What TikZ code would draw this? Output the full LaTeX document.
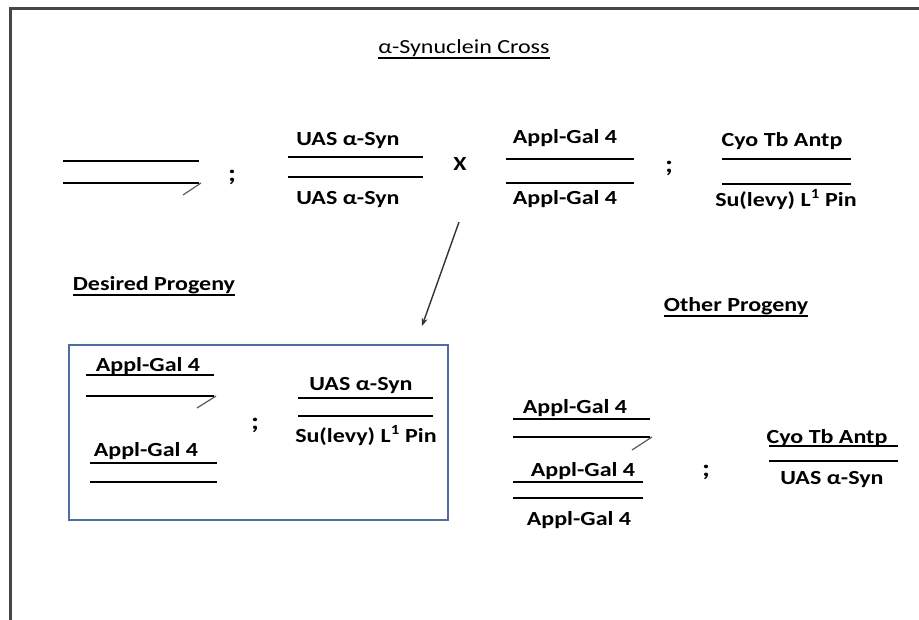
\documentclass[tikz,border=0pt]{standalone}
\usepackage{fontspec}
\setmainfont{Carlito}[FakeStretch=1.2]
\usetikzlibrary{arrows.meta}
\definecolor{boxblue}{RGB}{79,110,160}
\definecolor{framegray}{RGB}{70,70,70}
\tikzset{
    chrom/.style={line width=1.7pt},
    hook/.style={line width=1.2pt, black!65},
    gene/.style={font=\fontsize{20}{24}\selectfont\bfseries, inner sep=0pt, anchor=base},
    heading/.style={inner sep=0pt, anchor=base}
}

\begin{document}
\begin{tikzpicture}[x=1pt,y=-1pt]
\useasboundingbox (0,0) rectangle (919,620);
\draw[line width=3pt, framegray] (10,620) -- (10,9) -- (919,9);
% headings, underlined
\foreach \x/\y/\p/\f/\t in {464/53.5/title/\mdseries/{α-Synuclein Cross}, 154/290.5/desired/\bfseries/{Desired Progeny}, 736/311.5/other/\bfseries/{Other Progeny}}{
    \node[heading, font=\fontsize{20}{24}\selectfont\f] (\p) at (\x,\y) {\t};
    \draw[line width=1.5pt] ([yshift=-4.5pt]\p.base west) -- ([yshift=-4.5pt]\p.base east);
}
% chromosome lines
\foreach \xa/\xb/\y in {63/199/161, 63/199/183, 288/423/157, 288/423/177, 506/634/159, 506/634/183, 722/851/159, 722/851/184,
    86/214/375, 86/214/396, 90/217/463, 90/217/482, 298/433/398, 298/433/416,
    513/650/419, 513/650/437, 513/643/482, 513/643/498, 769/898/446, 769/898/461}{
    \draw[chrom] (\xa,\y) -- (\xb,\y);
}
% balancer hooks
\foreach \xa/\ya/\xb/\yb in {201/183/183/195, 216/396/197/408, 652/437/632/450}{
    \draw[hook] (\xa,\ya) -- (\xb,\yb);
}
% gene labels
\foreach \x/\y/\t [count=\i] in {348/145.5/{UAS α-Syn}, 348/204.5/{UAS α-Syn}, 565/143.5/{Appl-Gal 4}, 565/204.5/{Appl-Gal 4},
    782/146.5/{Cyo Tb Antp}, 786/206.5/{Su(levy) L\textsuperscript{1} Pin},
    148/371.5/{Appl-Gal 4}, 146/456.5/{Appl-Gal 4}, 361/390.5/{UAS α-Syn}, 366/442.5/{Su(levy) L\textsuperscript{1} Pin},
    575/413.5/{Appl-Gal 4}, 583/476.5/{Appl-Gal 4}, 579/525.5/{Appl-Gal 4}, 827/443.5/{Cyo Tb Antp}, 832/484.5/{UAS α-Syn}}{
    \node[gene] (g\i) at (\x,\y) {\t};
}
% separators
\foreach \x/\y [count=\i] in {232/182, 669/173, 255/429, 706/476}{
    \node[gene, font=\fontsize{24}{28}\selectfont\bfseries] (semi\i) at (\x,\y) {;};
}
\node[gene] (cross) at (460,170.5) {X};
% desired progeny box
\draw[boxblue, line width=1.3pt] (69,345) rectangle (448,520);
\coordinate (from) at (459,222);
\coordinate (to) at (422,326);
\draw[-{Stealth[length=8pt,width=6pt]}, line width=1.4pt, black!80] (from) -- (to);
\end{tikzpicture}
\end{document}
